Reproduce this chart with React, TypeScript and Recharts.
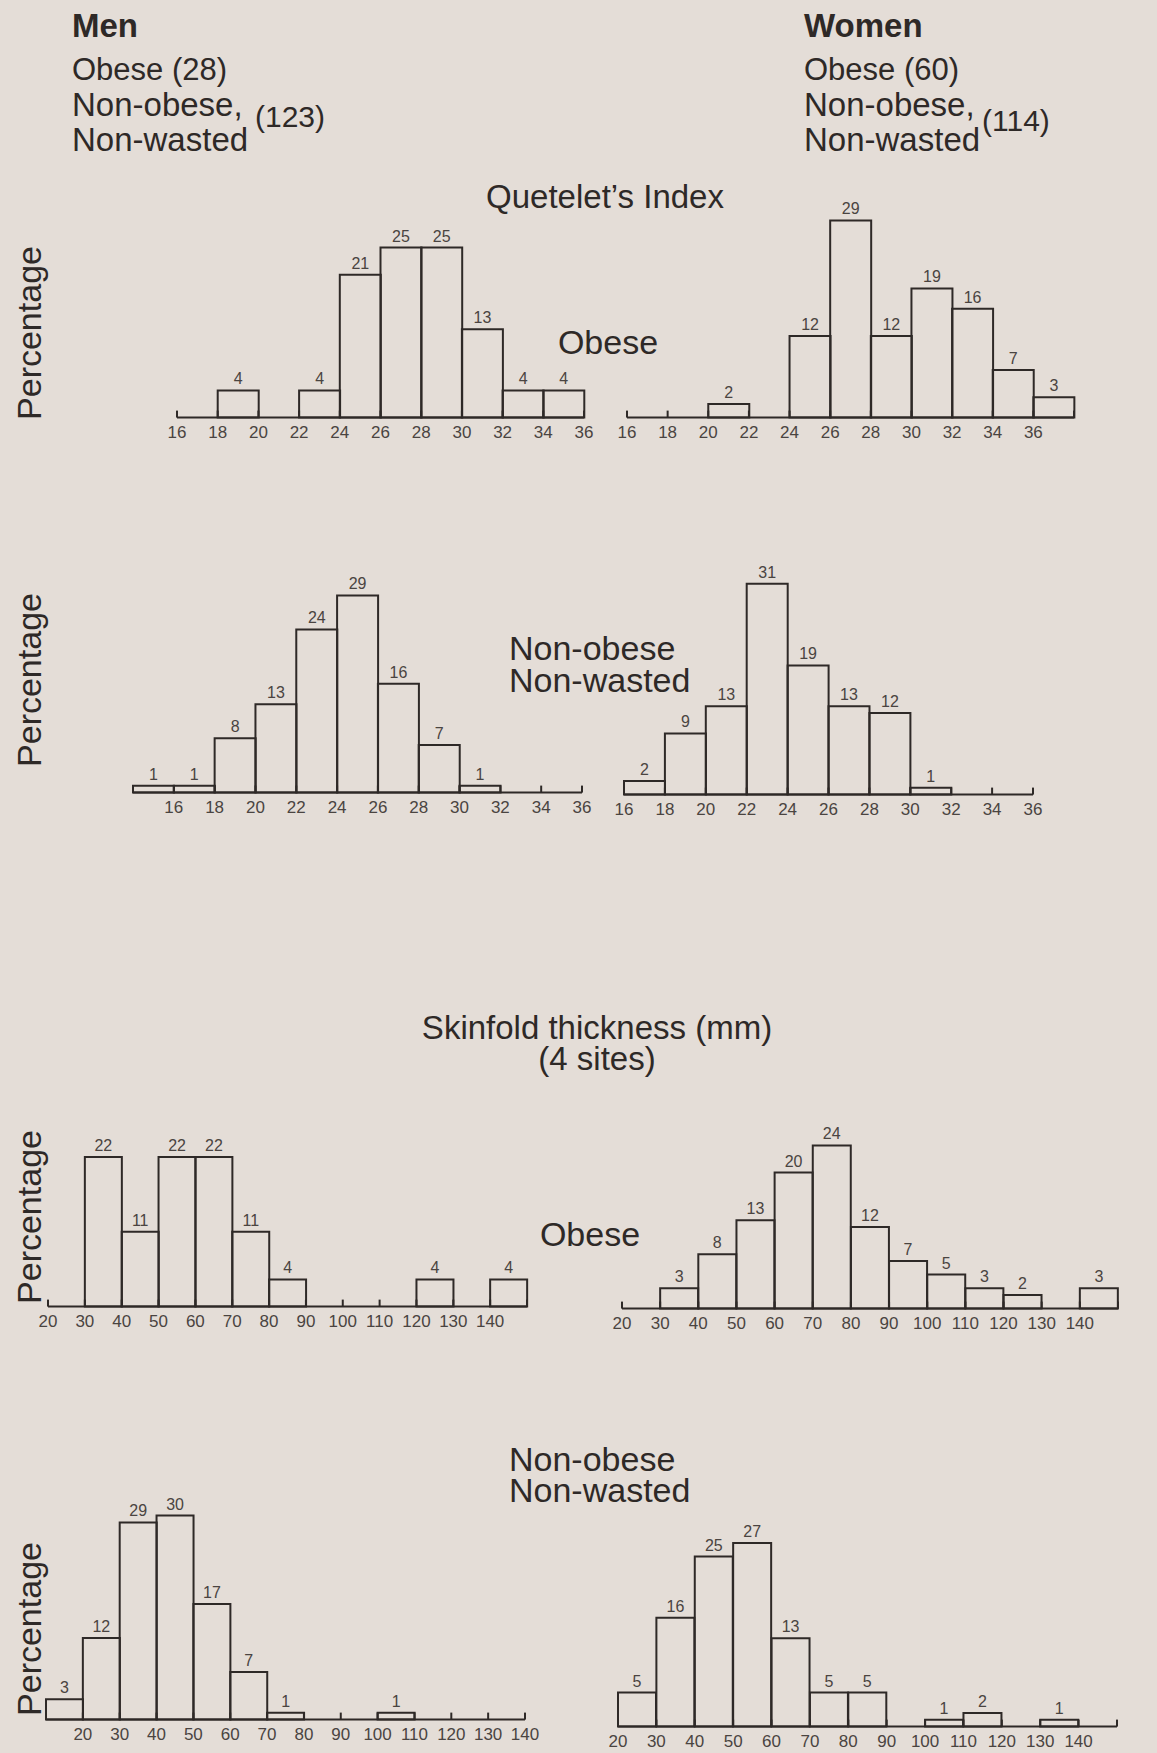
import React from 'react'
import { BarChart, Bar, XAxis, YAxis, LabelList } from 'recharts'

// tick labels
const QI_TICKS = [16, 18, 20, 22, 24, 26, 28, 30, 32, 34, 36]
const SF_TICKS = [20, 30, 40, 50, 60, 70, 80, 90, 100, 110, 120, 130, 140]

// Quetelet's index, bins of 2
const menObeseQiStart = [16, 18, 20, 22, 24, 26, 28, 30, 32, 34]
const menObeseQiPct = [0, 4, 0, 4, 21, 25, 25, 13, 4, 4]
const womenObeseQiStart = [16, 18, 20, 22, 24, 26, 28, 30, 32, 34, 36]
const womenObeseQiPct = [0, 0, 2, 0, 12, 29, 12, 19, 16, 7, 3]
const menNonObeseQiStart = [14, 16, 18, 20, 22, 24, 26, 28, 30, 32, 34]
const menNonObeseQiPct = [1, 1, 8, 13, 24, 29, 16, 7, 1, 0, 0]
const womenNonObeseQiStart = [16, 18, 20, 22, 24, 26, 28, 30, 32, 34]
const womenNonObeseQiPct = [2, 9, 13, 31, 19, 13, 12, 1, 0, 0]

// skinfold thickness (mm), bins of 10
const menObeseSfStart = [20, 30, 40, 50, 60, 70, 80, 90, 100, 110, 120, 130, 140]
const menObeseSfPct = [0, 22, 11, 22, 22, 11, 4, 0, 0, 0, 4, 0, 4]
const womenObeseSfStart = [20, 30, 40, 50, 60, 70, 80, 90, 100, 110, 120, 130, 140]
const womenObeseSfPct = [0, 3, 8, 13, 20, 24, 12, 7, 5, 3, 2, 0, 3]
const menNonObeseSfStart = [10, 20, 30, 40, 50, 60, 70, 80, 90, 100, 110, 120, 130]
const menNonObeseSfPct = [3, 12, 29, 30, 17, 7, 1, 0, 0, 1, 0, 0, 0]
const womenNonObeseSfStart = [20, 30, 40, 50, 60, 70, 80, 90, 100, 110, 120, 130, 140]
const womenNonObeseSfPct = [5, 16, 25, 27, 13, 5, 5, 0, 1, 2, 0, 1, 0]

const PAPER = '#e4ddd7'
const INK = '#2e2927'
const SOFT = '#4a4441'
const FONT = "'Liberation Sans', Arial, sans-serif"

const PX_PER_PCT = 6.8
const Y_MAX = 32
const PLOT_H = Y_MAX * PX_PER_PCT
const TOP = 14
const AXIS_H = 30
const SIDE = 22

const TopLabel = (props: any) => {
    const { x, y, width, value } = props
    if (!value) return null
    return (
        <text x={x + width / 2} y={y - 6} textAnchor="middle" fontSize={16} fill={SOFT} fontFamily={FONT}>
            {value}
        </text>
    )
}

type HistProps = {
    starts: number[]
    pct: number[]
    binWidth: number
    ticks: number[]
    left: number
    right: number
    baseline: number
}

const Histogram = ({ starts, pct, binWidth, ticks, left, right, baseline }: HistProps) => {
    const rows = starts.map((s, i) => ({ bin: s, pct: pct[i] }))
    const half = (right - left) / starts.length / 2
    const lastStart = starts[starts.length - 1]

    // category ticks sit mid-bin; the labels belong to the bin edges
    const EdgeTick = (p: any) => {
        const { x, y, payload } = p
        const start = payload.value
        const marks: { at: number; label?: number }[] = []
        if (ticks.includes(start)) marks.push({ at: x - half, label: start })
        if (start === lastStart) {
            const end = start + binWidth
            marks.push({ at: x + half, label: ticks.includes(end) ? end : undefined })
        }
        return (
            <g>
                {marks.map((m) => (
                    <g key={m.at}>
                        <line x1={m.at} x2={m.at} y1={y} y2={y - 7} stroke={INK} strokeWidth={2} />
                        {m.label !== undefined && (
                            <text x={m.at} y={y + 20} textAnchor="middle" fontSize={17} fill={SOFT} fontFamily={FONT}>
                                {m.label}
                            </text>
                        )}
                    </g>
                ))}
            </g>
        )
    }

    return (
        <div style={{ position: 'absolute', left: left - SIDE, top: baseline - TOP - PLOT_H }}>
            <BarChart
                width={right - left + SIDE * 2}
                height={TOP + PLOT_H + AXIS_H}
                data={rows}
                margin={{ top: TOP, right: SIDE, left: SIDE, bottom: 0 }}
                barCategoryGap={0}
                barGap={0}
            >
                <XAxis
                    dataKey="bin"
                    interval={0}
                    tickLine={false}
                    tickSize={0}
                    tickMargin={0}
                    height={AXIS_H}
                    axisLine={{ stroke: INK, strokeWidth: 2 }}
                    tick={(p: any) => <EdgeTick {...p} />}
                />
                <YAxis hide domain={[0, Y_MAX]} />
                <Bar dataKey="pct" fill="none" stroke={INK} strokeWidth={2} isAnimationActive={false}>
                    <LabelList dataKey="pct" content={(p: any) => <TopLabel {...p} />} />
                </Bar>
            </BarChart>
        </div>
    )
}

// y is the centre of the first line
const Txt = ({ x, y, size = 33, gap = 0, bold = false, center = false, lines }: any) => {
    const lh = gap || size
    return (
        <div
            style={{
                position: 'absolute',
                left: x,
                top: y - lh / 2,
                transform: center ? 'translateX(-50%)' : undefined,
                textAlign: center ? 'center' : 'left',
                fontSize: size,
                fontWeight: bold ? 700 : 400,
                lineHeight: `${lh}px`,
                whiteSpace: 'nowrap',
                color: INK,
                fontFamily: FONT
            }}
        >
            {lines.map((l: string, i: number) => (
                <React.Fragment key={i}>
                    {i > 0 && <br />}
                    {l}
                </React.Fragment>
            ))}
        </div>
    )
}

const YLabel = ({ y }: { y: number }) => (
    <div
        style={{
            position: 'absolute',
            left: 29,
            top: y,
            transform: 'translate(-50%, -50%) rotate(-90deg)',
            fontSize: 34,
            lineHeight: 1,
            whiteSpace: 'nowrap',
            color: INK,
            fontFamily: FONT
        }}
    >
        Percentage
    </div>
)

export default function App() {
    return (
        <div style={{ position: 'absolute', left: 0, top: 0, width: 1157, height: 1753, background: PAPER, overflow: 'hidden' }}>
            {/* header */}
            <Txt x={72} y={25} bold lines={['Men']} />
            <Txt x={72} y={69} size={31} lines={['Obese (28)']} />
            <Txt x={72} y={104} gap={35} lines={['Non-obese,', 'Non-wasted']} />
            <Txt x={255} y={117} size={30} lines={['(123)']} />
            <Txt x={804} y={25} bold lines={['Women']} />
            <Txt x={804} y={69} size={31} lines={['Obese (60)']} />
            <Txt x={804} y={104} gap={35} lines={['Non-obese,', 'Non-wasted']} />
            <Txt x={982} y={121} size={30} lines={['(114)']} />

            <Txt x={605} y={196} center lines={['Quetelet’s Index']} />
            <Txt x={608} y={342} center size={34} lines={['Obese']} />
            <Txt x={509} y={648} size={34} gap={32} lines={['Non-obese', 'Non-wasted']} />

            <Txt x={597} y={1027} center gap={31} lines={['Skinfold thickness (mm)', '(4 sites)']} />
            <Txt x={590} y={1234} center size={34} lines={['Obese']} />
            <Txt x={509} y={1459} size={34} gap={31} lines={['Non-obese', 'Non-wasted']} />

            <YLabel y={333} />
            <YLabel y={680} />
            <YLabel y={1217} />
            <YLabel y={1629} />

            {/* Quetelet's index */}
            <Histogram starts={menObeseQiStart} pct={menObeseQiPct} binWidth={2} ticks={QI_TICKS} left={177} right={584} baseline={418} />
            <Histogram starts={womenObeseQiStart} pct={womenObeseQiPct} binWidth={2} ticks={QI_TICKS} left={627} right={1074} baseline={418} />
            <Histogram starts={menNonObeseQiStart} pct={menNonObeseQiPct} binWidth={2} ticks={QI_TICKS} left={133} right={582} baseline={793} />
            <Histogram starts={womenNonObeseQiStart} pct={womenNonObeseQiPct} binWidth={2} ticks={QI_TICKS} left={624} right={1033} baseline={795} />

            {/* skinfold thickness */}
            <Histogram starts={menObeseSfStart} pct={menObeseSfPct} binWidth={10} ticks={SF_TICKS} left={48} right={527} baseline={1307} />
            <Histogram starts={womenObeseSfStart} pct={womenObeseSfPct} binWidth={10} ticks={SF_TICKS} left={622} right={1118} baseline={1309} />
            <Histogram starts={menNonObeseSfStart} pct={menNonObeseSfPct} binWidth={10} ticks={SF_TICKS} left={46} right={525} baseline={1720} />
            <Histogram starts={womenNonObeseSfStart} pct={womenNonObeseSfPct} binWidth={10} ticks={SF_TICKS} left={618} right={1117} baseline={1727} />
        </div>
    )
}
